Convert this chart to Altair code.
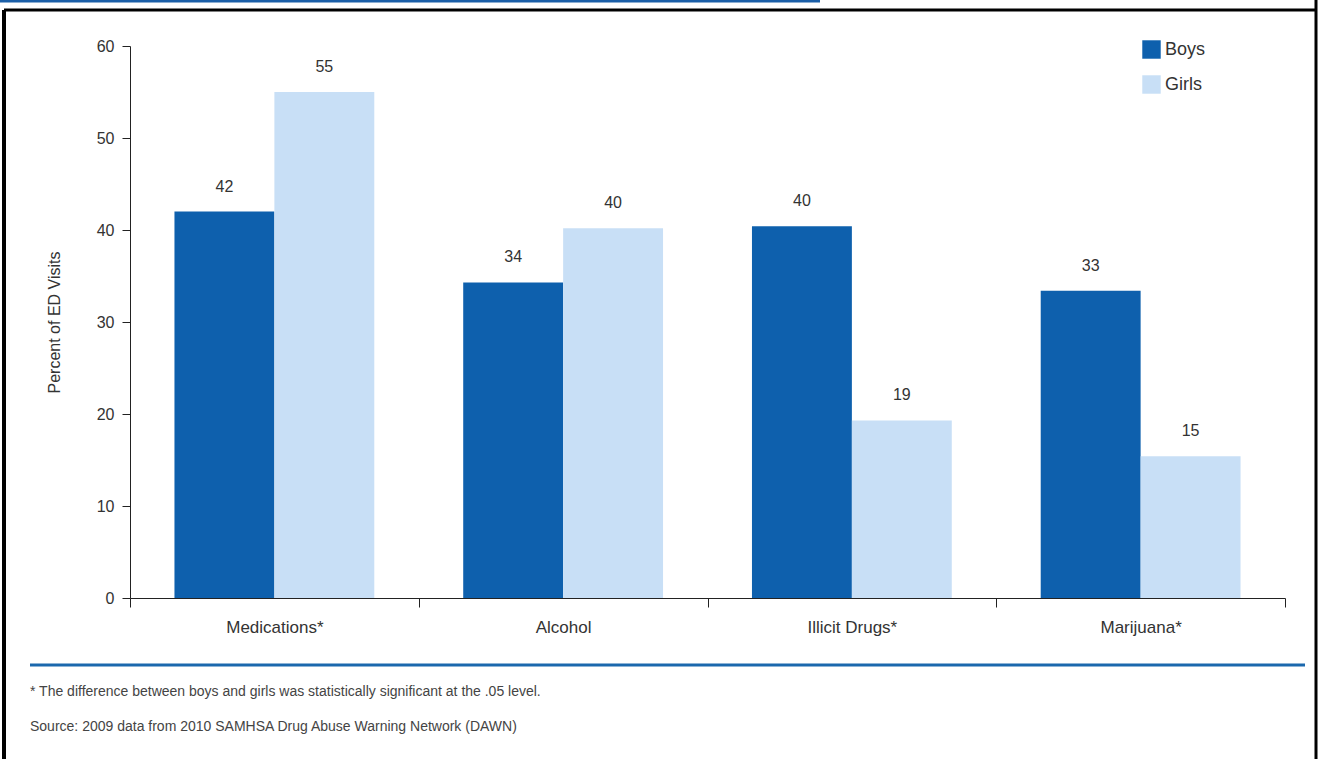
import altair as alt
import pandas as pd

categories = ["Medications*", "Alcohol", "Illicit Drugs*", "Marijuana*"]
groups = ["Boys", "Girls"]
boys = [42.0, 34.3, 40.4, 33.4]
girls = [55.0, 40.2, 19.3, 15.4]
labels_boys = ["42", "34", "40", "33"]
labels_girls = ["55", "40", "19", "15"]
footnote1 = "* The difference between boys and girls was statistically significant at the .05 level."
footnote2 = "Source: 2009 data from 2010 SAMHSA Drug Abuse Warning Network (DAWN)"

rows = []
for c, b, g, lb, lg in zip(categories, boys, girls, labels_boys, labels_girls):
    rows.append({"cat": c, "sex": "Boys", "val": b, "lab": lb})
    rows.append({"cat": c, "sex": "Girls", "val": g, "lab": lg})
df = pd.DataFrame(rows)

FONT = "Liberation Sans"
W, H = 1155, 552

x = alt.X("cat:N", sort=categories, title=None,
          scale=alt.Scale(paddingInner=0, paddingOuter=0),
          axis=alt.Axis(labelAngle=0, tickBand="extent", tickSize=9,
                        labelFontSize=17, labelColor="#333", labelPadding=12,
                        domainColor="#222", tickColor="#222", labelFont=FONT))
xo = alt.XOffset("sex:N", sort=groups,
                 scale=alt.Scale(paddingInner=0, paddingOuter=0.445))
y = alt.Y("val:Q", title="Percent of ED Visits",
          scale=alt.Scale(domain=[0, 60], nice=False),
          axis=alt.Axis(values=[0, 10, 20, 30, 40, 50, 60], tickSize=8, grid=False,
                        labelFontSize=16, labelColor="#333", labelPadding=8,
                        titleFontSize=16, titleFontWeight="normal", titleColor="#333",
                        titlePadding=34, domainColor="#222", tickColor="#222",
                        labelFont=FONT, titleFont=FONT))
color = alt.Color("sex:N", sort=groups,
                  scale=alt.Scale(domain=groups, range=["#0e60ad", "#c8dff6"]),
                  legend=alt.Legend(title=None, orient="none", legendX=1012, legendY=-6,
                                    symbolType="square", symbolSize=340,
                                    symbolStrokeWidth=0, labelFontSize=18,
                                    labelColor="#333", rowPadding=16, labelFont=FONT,
                                    symbolOpacity=1))

base = alt.Chart(df)
bars = base.mark_bar().encode(x=x, xOffset=xo, y=y, color=color)
texts = base.mark_text(dy=-25, fontSize=16, color="#333", font=FONT).encode(
    x=x, xOffset=xo, y="val:Q", text="lab:N")

one = alt.Data(values=[{}])

def rule(x1, x2, y1, y2, col, sw):
    return alt.Chart(one).mark_rule(color=col, strokeWidth=sw).encode(
        x=alt.value(x1), x2=alt.value(x2), y=alt.value(y1), y2=alt.value(y2))

deco = [
    rule(-100, 1175, 619, 619, "#1b68ad", 3),
    rule(-126, -126, -36, 713, "#000", 4),
    rule(-126, 1186, -36, -36, "#000", 3),
    rule(1186, 1186, -46, 713, "#000", 3),
    rule(-130, 690, -45, -45, "#1b5fa8", 3),
]

def note(txt, yv):
    return alt.Chart(one).mark_text(align="left", baseline="middle", fontSize=14,
                                    color="#444", font=FONT).encode(
        x=alt.value(-100), y=alt.value(yv), text=alt.value(txt))

chart = alt.layer(bars, texts, *deco, note(footnote1, 646), note(footnote2, 681)).properties(
    width=W, height=H, padding={"left": 130, "top": 46, "right": 35, "bottom": 161},
    autosize=alt.AutoSizeParams(type="none"), background="white"
).configure_view(stroke=None)

chart.save("out.html", embed_options={"renderer": "svg", "actions": False})
